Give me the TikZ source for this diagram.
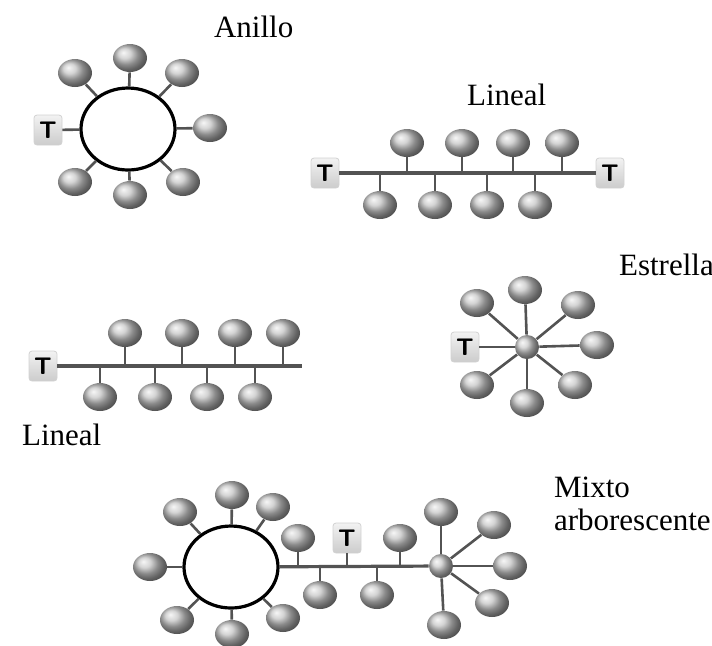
\documentclass[tikz,border=0pt]{standalone}
\usepackage{fontspec}
\setmainfont{Liberation Serif}
\usetikzlibrary{positioning, shapes.geometric}

\begin{document}
\begin{tikzpicture}[x=0.5pt, y=-0.5pt,
    pc/.style={ellipse, minimum width=17pt, minimum height=14pt, inner sep=0pt, ball color=gray!45},
    hub/.style={circle, minimum size=12pt, inner sep=0pt, ball color=gray!40},
    term/.style={rectangle, rounded corners=1.5pt, minimum width=14pt, minimum height=15pt, inner sep=0pt,
      top color=gray!10, bottom color=gray!40, draw=gray!35, font=\sffamily\bfseries\large},
    anillo/.style={ellipse, draw=black, line width=1.6pt, minimum width=47pt, minimum height=41pt, fill=white},
    link/.style={draw=gray!65!black, line width=1.3pt},
    etiqueta/.style={anchor=base west, font=\fontsize{15.5}{18}\selectfont}
  ]
    \useasboundingbox (0,0) rectangle (712,645);

    % anillo
    \node[anillo] (ring1) at (128,129) {};
    \node[term] (t1) at (48,130) {T};
    \foreach \p [count=\i] in {(130,58),(75,73),(182,73),(210,128),(183,182),(130,195),(75,182)}
      \node[pc] (a\i) at \p {};
    \foreach \i in {1,...,7} \draw[link] (ring1) -- (a\i);
    \draw[link] (ring1) -- (t1);
    \node[etiqueta] (lanillo) at (207,37) {Anillo};

    % lineal (arriba)
    \node[term] (t2) at (325,173) {T};
    \node[term] (t3) at (610,173) {T};
    \draw[link, line width=1.6pt] (t2) -- (t3);
    \foreach \x [count=\i] in {407,462,513,562} {
      \node[pc] (b\i) at (\x,143) {};
      \draw[link] (b\i) -- (b\i |- t2);
    }
    \foreach \x [count=\i] in {380,435,487,535} {
      \node[pc] (c\i) at (\x,205) {};
      \draw[link] (c\i) -- (c\i |- t2);
    }
    \node[etiqueta] (llineal1) at (460,105) {Lineal};

    % lineal (abajo)
    \node[term] (t4) at (43,366) {T};
    \coordinate (fin4) at (302,366);
    \draw[link, line width=1.6pt] (t4) -- (fin4);
    \foreach \x [count=\i] in {125,182,235,283} {
      \node[pc] (d\i) at (\x,333) {};
      \draw[link] (d\i) -- (d\i |- t4);
    }
    \foreach \x [count=\i] in {100,155,207,255} {
      \node[pc] (e\i) at (\x,397) {};
      \draw[link] (e\i) -- (e\i |- t4);
    }
    \node[etiqueta] (llineal2) at (15,445) {Lineal};

    % estrella
    \node[hub] (hub1) at (527,347) {};
    \node[term] (t5) at (465,347) {T};
    \foreach \p [count=\i] in {(525,290),(477,303),(578,305),(597,345),(575,385),(527,403),(477,385)} {
      \node[pc] (s\i) at \p {};
      \draw[link] (hub1) -- (s\i);
    }
    \draw[link] (hub1) -- (t5);
    \node[etiqueta] (lestrella) at (612,275) {Estrella};

    % mixto arborescente
    \node[anillo] (ring2) at (231,567) {};
    \foreach \p [count=\i] in {(150,567),(180,512),(232,495),(273,507),(283,618),(232,634),(177,620)} {
      \node[pc] (m\i) at \p {};
      \draw[link] (ring2) -- (m\i);
    }
    \node[hub] (hub2) at (441,566) {};
    \draw[link, line width=1.6pt] (ring2) -- (hub2);
    \node[term] (t6) at (347,538) {T};
    \draw[link] (t6) -- (t6 |- hub2);
    \foreach \x [count=\i] in {298,400} {
      \node[pc] (n\i) at (\x,538) {};
      \draw[link] (n\i) -- (n\i |- hub2);
    }
    \foreach \x [count=\i] in {320,377} {
      \node[pc] (o\i) at (\x,595) {};
      \draw[link] (o\i) -- (o\i |- hub2);
    }
    \foreach \p [count=\i] in {(441,512),(494,525),(510,566),(492,603),(444,625)} {
      \node[pc] (h\i) at \p {};
      \draw[link] (hub2) -- (h\i);
    }
    \node[etiqueta] (lmixto) at (547,497) {Mixto};
    \node[etiqueta] (larbor) at (547,530) {arborescente};
  \end{tikzpicture}
\end{document}
